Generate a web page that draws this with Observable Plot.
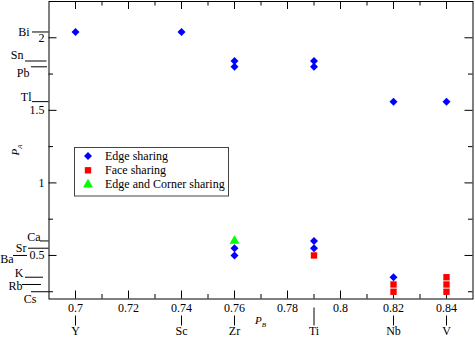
<!DOCTYPE html>
<html><head><meta charset="utf-8">
<script src="https://cdn.jsdelivr.net/npm/d3@7"></script>
<script src="https://cdn.jsdelivr.net/npm/@observablehq/plot@0.6"></script>
<style>body{margin:0;background:#fff}</style>
</head><body><div id="chart"></div>
<script>
// ---- data ----
const elementsB = ["Y", "Sc", "Zr", "Ti", "Nb", "V"];
const pB = [0.70, 0.74, 0.76, 0.79, 0.82, 0.84];
const elementsA = ["Bi", "Sn", "Pb", "Tl", "Ca", "Sr", "Ba", "K", "Rb", "Cs"];
const pA = [2.04, 1.84, 1.80, 1.56, 0.60, 0.55, 0.50, 0.35, 0.30, 0.25];

const edgeX = [0.70, 0.74, 0.76, 0.76, 0.76, 0.76, 0.79, 0.79, 0.79, 0.79, 0.82, 0.82, 0.84];
const edgeY = [2.04, 2.04, 1.84, 1.80, 0.55, 0.50, 1.84, 1.80, 0.60, 0.55, 1.56, 0.35, 1.56];
const faceX = [0.79, 0.82, 0.82, 0.84, 0.84, 0.84];
const faceY = [0.50, 0.30, 0.25, 0.35, 0.30, 0.25];
const cornerX = [0.76];
const cornerY = [0.60];

const seriesNames = ["Edge sharing", "Face sharing", "Edge and Corner sharing"];

const xTicks = [0.70, 0.72, 0.74, 0.76, 0.78, 0.80, 0.82, 0.84];
const xTickLabels = ["0.7", "0.72", "0.74", "0.76", "0.78", "0.8", "0.82", "0.84"];
const xMinorTicks = [0.71, 0.73, 0.75, 0.77, 0.79, 0.81, 0.83];
const yTicks = [0.5, 1, 1.5, 2];
const yTickLabels = ["0.5", "1", "1.5", "2"];
const yMinorTicks = [0.25, 0.75, 1.25, 1.75];
const xDomain = [0.69, 0.85];
const yDomain = [0.2, 2.25];

// ---- styles ----
const seriesColors = ["#0000ff", "#ff0000", "#00ff00"];
const seriesSymbols = ["diamond2", "square", "triangle"];
const seriesR = [3.6, 3.6, 3.7];
const FONT = "'Liberation Serif', 'Times New Roman', Times, 'DejaVu Serif', serif";
// label layout for A-site element labels: [lineInsetLeft, lineInsetRight, textDx, textDy]
const aLayout = [
  [-16.5, 0, -19.5, 0],
  [-23.5, 2, -25.5, -5.7],
  [-17.5, 1.5, -19.5, 6],
  [-16.5, 0, -17.5, -4],
  [-8.5, 0, -8.5, -4],
  [-20.5, 0, -22.5, 0],
  [-35.5, 21.5, -35.5, 3.5],
  [-23.5, 5.5, -25.5, -4],
  [-26.5, 7.5, -26.5, 2],
  [-17.5, 0, -12.5, 7]
];
// vertical connector start (px below axis) for B-site labels
const bLineStart = [17, 17, 17, 9, 17, 17];

const majorLen = 8, minorLen = 4.5;

const edge = edgeX.map((x, i) => ({x, y: edgeY[i]}));
const face = faceX.map((x, i) => ({x, y: faceY[i]}));
const corner = cornerX.map((x, i) => ({x, y: cornerY[i]}));

const marks = [];
// inward ticks on all four sides
for (const [t, len] of [[xTicks, majorLen], [xMinorTicks, minorLen]]) {
  marks.push(Plot.ruleX(t, {x: d => d, y1: yDomain[0], y2: yDomain[0], insetTop: -len, stroke: "black"}));
  marks.push(Plot.ruleX(t, {x: d => d, y1: yDomain[1], y2: yDomain[1], insetBottom: -len, stroke: "black"}));
}
for (const [t, len] of [[yTicks, majorLen], [yMinorTicks, minorLen]]) {
  marks.push(Plot.ruleY(t, {y: d => d, x1: xDomain[0], x2: xDomain[0], insetRight: -len, stroke: "black"}));
  marks.push(Plot.ruleY(t, {y: d => d, x1: xDomain[1], x2: xDomain[1], insetLeft: -len, stroke: "black"}));
}
marks.push(Plot.frame({stroke: "black"}));
marks.push(Plot.axisX({ticks: xTicks, tickSize: 0, tickPadding: 4, tickFormat: (d, i) => xTickLabels[i], label: null, fontSize: 12, fontFamily: FONT}));
marks.push(Plot.axisY({ticks: yTicks, tickSize: 0, tickPadding: 4.5, tickFormat: (d, i) => yTickLabels[i], label: null, fontSize: 12, fontFamily: FONT}));

// A-site element labels with connector lines
elementsA.forEach((el, i) => {
  const [il, ir, tdx, tdy] = aLayout[i];
  marks.push(Plot.ruleY([pA[i]], {y: d => d, x1: xDomain[0], x2: xDomain[0], insetLeft: il, insetRight: ir, stroke: "black"}));
  marks.push(Plot.text([el], {y: () => pA[i], frameAnchor: "left", dx: tdx, dy: tdy, textAnchor: "end", fontSize: 12, fontFamily: FONT, fill: "black"}));
});
// B-site element labels with connector lines
elementsB.forEach((el, i) => {
  marks.push(Plot.ruleX([pB[i]], {x: d => d, y1: yDomain[0], y2: yDomain[0], insetTop: bLineStart[i], insetBottom: -27, stroke: "black"}));
  marks.push(Plot.text([el], {x: () => pB[i], frameAnchor: "bottom", dy: 35.5, fontSize: 12, fontFamily: FONT, fill: "black"}));
});

// data points
[edge, face, corner].forEach((data, k) => {
  marks.push(Plot.dot(data, {x: "x", y: "y", symbol: seriesSymbols[k], r: seriesR[k], fill: seriesColors[k]}));
});

const plot = Plot.plot({
  width: 475, height: 339,
  marginLeft: 48.5, marginRight: 2.5, marginTop: 1, marginBottom: 40.5,
  x: {domain: xDomain},
  y: {domain: yDomain},
  style: {fontFamily: FONT, fontSize: "12px", background: "white", color: "black", overflow: "visible"},
  marks
});
document.getElementById("chart").appendChild(plot);

const svg = d3.select(plot);
// axis titles
const pa = svg.append("text").attr("transform", "translate(18.5,155.5) rotate(-90)")
  .attr("text-anchor", "start").style("font-family", FONT).style("font-size", "11px").style("font-style", "italic").attr("fill", "black");
pa.append("tspan").text("P");
pa.append("tspan").style("font-size", "7px").attr("dy", 3).text("A");
const pb = svg.append("text").attr("x", 255).attr("y", 324)
  .attr("text-anchor", "start").style("font-family", FONT).style("font-size", "11px").style("font-style", "italic").attr("fill", "black");
pb.append("tspan").text("P");
pb.append("tspan").style("font-size", "7px").attr("dy", 3).text("B");

// legend
const lg = svg.append("g");
lg.append("rect").attr("x", 74.5).attr("y", 147.5).attr("width", 154).attr("height", 48.5)
  .attr("fill", "white").attr("stroke", "#444");
const symMap = {diamond2: d3.symbolDiamond2, square: d3.symbolSquare, triangle: d3.symbolTriangle};
const rowY = [156, 170.3, 184.6];
seriesNames.forEach((name, k) => {
  lg.append("path").attr("transform", `translate(88,${rowY[k]})`)
    .attr("d", d3.symbol(symMap[seriesSymbols[k]], Math.PI * seriesR[k] ** 2)())
    .attr("fill", seriesColors[k]);
  lg.append("text").attr("x", 105).attr("y", rowY[k]).attr("dy", "0.32em").attr("text-anchor", "start")
    .style("font-family", FONT).style("font-size", "12px").attr("fill", "black").text(name);
});
</script>
</body></html>
